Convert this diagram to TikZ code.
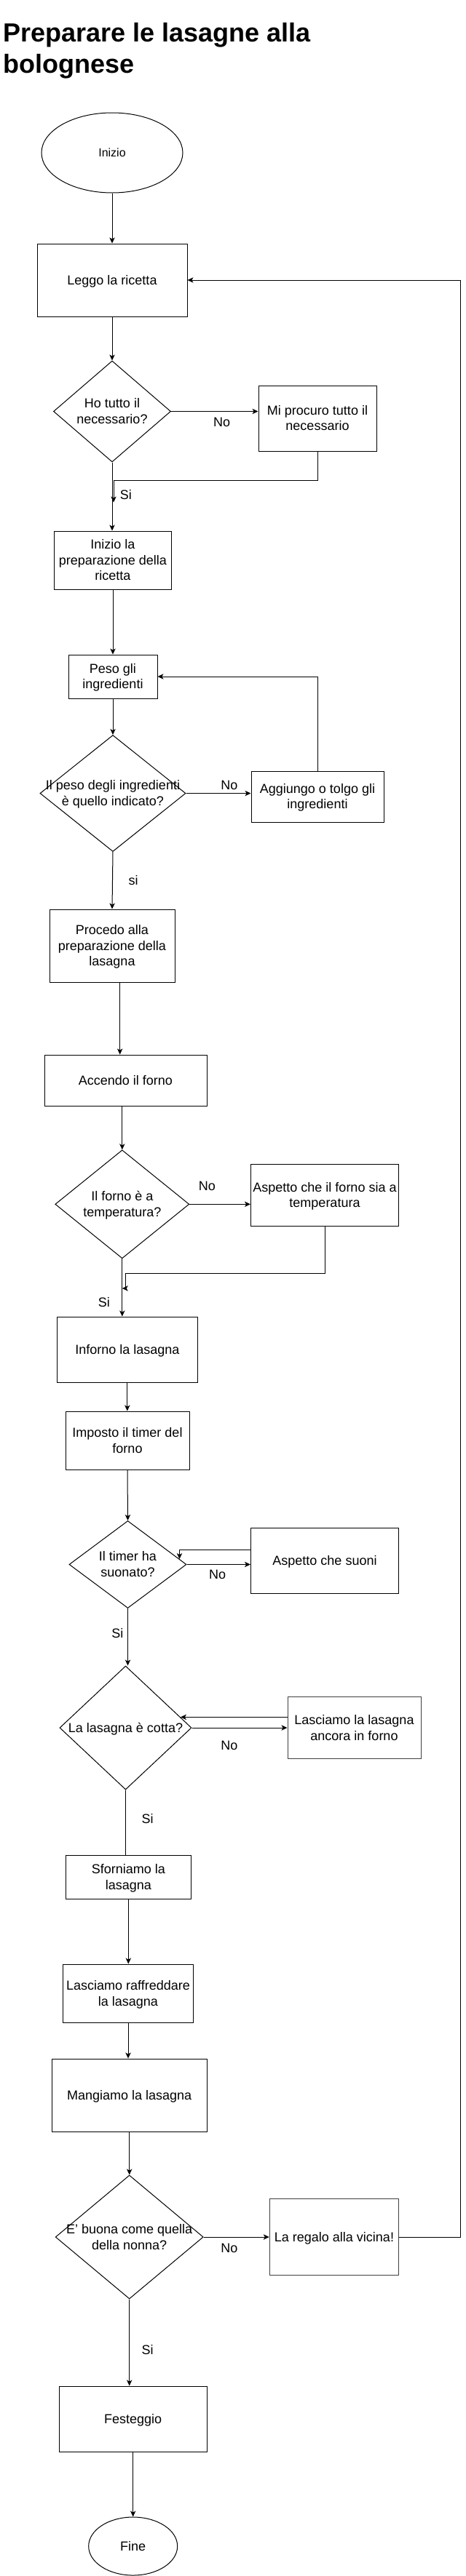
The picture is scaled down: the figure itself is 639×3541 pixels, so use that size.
\documentclass[tikz,border=0pt]{standalone}
\usepackage{fontspec}
\setmainfont{Liberation Sans}
\usetikzlibrary{shapes.geometric,arrows.meta,calc}

\newcommand{\boxtext}[1]{\smash{\makebox[0pt]{\raisebox{-0.37em}{\begin{tabular}{@{}c@{}}#1\end{tabular}}}}}

\begin{document}
\begin{tikzpicture}[x=0.75pt,y=0.75pt,yscale=-1,xscale=1,
  every node/.style={font=\fontsize{13.5}{16.2}\selectfont},
  wh/.style 2 args={minimum width=#1*0.75pt,minimum height=#2*0.75pt},
  stepbox/.style={draw,rectangle,inner sep=0pt,line width=0.75pt},
  choice/.style={draw,diamond,inner sep=0pt,line width=0.75pt},
  terminal/.style={draw,ellipse,inner sep=0pt,line width=0.75pt},
  flow/.style={line width=0.75pt,-{Stealth[length=6pt,width=5.5pt,inset=1.6pt]}},
  link/.style={line width=0.75pt},
  lbl/.style={inner sep=0pt}]
\useasboundingbox (0,0) rectangle (639,3541);

%Title
\node[anchor=base west,inner sep=0pt,font=\fontsize{27}{32.25}\selectfont\bfseries] (title) at (4,57) {\begin{tabular}[t]{@{}l@{}}Preparare le lasagne alla\\bolognese\end{tabular}};

%Shape: Ellipse
\node[terminal,wh={194}{110},font=\fontsize{12}{14.4}\selectfont] (inizio) at (154,210) {\boxtext{Inizio}};
%Shape: Rectangle
\node[stepbox,wh={206}{100}] (leggo) at (154,385) {\boxtext{Leggo la ricetta}};
%Shape: Diamond
\node[choice,wh={161}{139}] (necessario) at (154,565.5) {\boxtext{Ho tutto il\\necessario?}};
%Shape: Rectangle
\node[stepbox,wh={162}{90}] (procuro) at (436,575) {\boxtext{Mi procuro tutto il\\necessario}};
%Shape: Rectangle
\node[stepbox,wh={161}{80}] (iniziaprep) at (155,770) {\boxtext{Inizio la\\preparazione della\\ricetta}};
%Shape: Rectangle
\node[stepbox,wh={122}{60}] (peso) at (155,930) {\boxtext{Peso gli\\ingredienti}};
%Shape: Diamond
\node[choice,wh={200}{160}] (pesook) at (155,1090.5) {\boxtext{Il peso degli ingredienti\\è quello indicato?}};
%Shape: Rectangle
\node[stepbox,wh={182}{70}] (aggiungo) at (436,1095) {\boxtext{Aggiungo o tolgo gli\\ingredienti}};
%Shape: Rectangle
\node[stepbox,wh={172}{100}] (procedo) at (154,1300) {\boxtext{Procedo alla\\preparazione della\\lasagna}};
%Shape: Rectangle
\node[stepbox,wh={223}{70}] (accendo) at (172.5,1485) {\boxtext{Accendo il forno}};
%Shape: Diamond
\node[choice,wh={184}{149}] (fornook) at (167.8,1655.3) {\boxtext{Il forno è a\\temperatura?}};
%Shape: Rectangle
\node[stepbox,wh={203}{85}] (aspettoforno) at (446,1642.7) {\boxtext{Aspetto che il forno sia a\\temperatura}};
%Shape: Rectangle
\node[stepbox,wh={193}{90}] (inforno) at (174.8,1855) {\boxtext{Inforno la lasagna}};
%Shape: Rectangle
\node[stepbox,wh={170}{80}] (imposto) at (175,1980) {\boxtext{Imposto il timer del\\forno}};
%Shape: Diamond
\node[choice,wh={161}{120}] (timer) at (175.5,2150.5) {\boxtext{Il timer ha\\suonato?}};
%Shape: Rectangle
\node[stepbox,wh={203}{90}] (aspettosuoni) at (446,2145) {\boxtext{Aspetto che suoni}};
%Shape: Diamond
\node[choice,wh={181}{170}] (cotta) at (172.5,2375) {\boxtext{La lasagna è cotta?}};
%Shape: Rectangle
\node[stepbox,wh={183}{85},draw=black!75] (lascia) at (486.5,2375) {\boxtext{Lasciamo la lasagna\\ancora in forno}};
%Shape: Rectangle
\node[stepbox,wh={172.5}{60}] (sforna) at (176.3,2580.3) {\boxtext{Sforniamo la\\lasagna}};
%Shape: Rectangle
\node[stepbox,wh={179}{80}] (raffredda) at (176,2740) {\boxtext{Lasciamo raffreddare\\la lasagna}};
%Shape: Rectangle
\node[stepbox,wh={213}{100}] (mangia) at (177.7,2880) {\boxtext{Mangiamo la lasagna}};
%Shape: Diamond
\node[choice,wh={203}{170}] (nonna) at (177.7,3075) {\boxtext{E' buona come quella\\della nonna?}};
%Shape: Rectangle
\node[stepbox,wh={177.5}{105},draw=black!75] (regalo) at (459,3075) {\boxtext{La regalo alla vicina!}};
%Shape: Rectangle
\node[stepbox,wh={203}{90}] (festeggio) at (182.7,3325) {\boxtext{Festeggio}};
%Shape: Ellipse
\node[terminal,wh={122}{80}] (fine) at (182.7,3500) {\boxtext{Fine}};

%Merge points
\coordinate (merge1) at ($(necessario.south)+(2,55)$);
\coordinate (merge2) at ($(fornook.south)+(0,40.7)$);

%Connectors
\draw[flow] (inizio.south) -- (leggo.north);
\draw[flow] (leggo.south) -- (necessario.north);
\draw[flow] (necessario.east) -- (necessario.east -| procuro.west);
\draw[flow] (necessario.south) -- (necessario.south |- iniziaprep.north);
\draw[flow] (procuro.south) -- ++(0,40) -| (merge1);
\draw[flow] (iniziaprep.south) -- (peso.north);
\draw[flow] (peso.south) -- (pesook.north);
\draw[flow] (pesook.east) -- (pesook.east -| aggiungo.west);
\draw[flow] (aggiungo.north) |- (peso.east);
\draw[flow] (pesook.south) -- (procedo.north);
\draw[flow] ($(procedo.south)+(10.7,0)$) coordinate (p1) -- (p1 |- accendo.north);
\draw[flow] (fornook.north |- accendo.south) -- (fornook.north);
\draw[flow] (fornook.east) -- (fornook.east -| aspettoforno.west);
\draw[flow] (aspettoforno.south) |- ($(merge2)+(4.7,-20.7)$) -- ($(merge2)+(4.7,0)$) -- (merge2);
\draw[flow] (fornook.south) -- (fornook.south |- inforno.north);
\draw[flow] (inforno.south) -- (inforno.south |- imposto.north);
\draw[flow] (imposto.south) -- (timer.north);
\draw[flow] (timer.east) -- (timer.east -| aspettosuoni.west);
\draw[flow] ($(aspettosuoni.west)+(0,-14.7)$) -| (timer.6);
\draw[flow] (timer.south) -- (timer.south |- cotta.north);
\draw[flow] (cotta.east) -- (cotta.east -| lascia.west);
\draw[flow] (lascia.west |- cotta.11) -- (cotta.11);
\draw[link] (cotta.south) -- (cotta.south |- sforna.north);
\draw[flow] (sforna.south) -- (sforna.south |- raffredda.north);
\draw[flow] (raffredda.south) -- (raffredda.south |- mangia.north);
\draw[flow] (mangia.south) -- (mangia.south |- nonna.north);
\draw[flow] (nonna.east) -- (regalo.west);
\draw[flow] (regalo.east) -- ++(84,0) |- (leggo.east);
\draw[flow] (nonna.south) -- (nonna.south |- festeggio.north);
\draw[flow] (festeggio.south) -- (fine.north);

%Labels
\node[lbl] (no1) at (304.6,580) {No};
\node[lbl] (si1) at (172.8,680) {Si};
\node[lbl] (no2) at (314.8,1079.7) {No};
\node[lbl] (si2) at (183,1210) {si};
\node[lbl] (no3) at (284.4,1630) {No};
\node[lbl] (si3) at (142.8,1790) {Si};
\node[lbl] (no4) at (298.7,2164.7) {No};
\node[lbl] (si4) at (161.4,2245) {Si};
\node[lbl] (no5) at (314.8,2399) {No};
\node[lbl] (si5) at (202.7,2500) {Si};
\node[lbl] (no6) at (314.8,3090) {No};
\node[lbl] (si6) at (202.7,3230) {Si};

\end{tikzpicture}
\end{document}
